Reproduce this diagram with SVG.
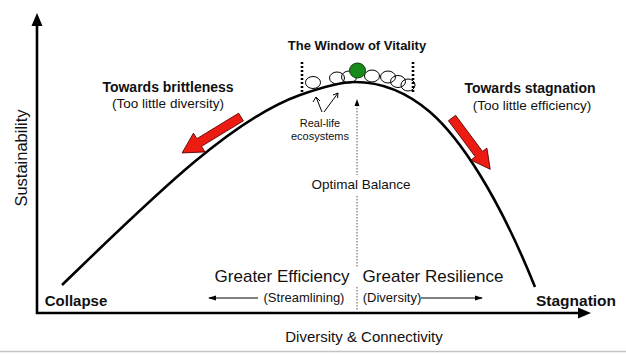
<svg xmlns="http://www.w3.org/2000/svg" width="626" height="354" viewBox="0 0 626 354">
<style>
text{font-family:"Liberation Sans",Arial,sans-serif;fill:#111}
.b{font-weight:bold}
.axis{stroke:#000;stroke-width:2.6;fill:none}
.curve{stroke:#000;stroke-width:2.6;fill:none}
.ring{fill:none;stroke:#000;stroke-width:1}
.red{fill:#ec1c12;stroke:#5a0000;stroke-width:0.8}
.thin{stroke:#000;stroke-width:1;fill:none}
.dots{stroke:#555;stroke-width:1;stroke-dasharray:1.5 1.5;fill:none}
.wdots{stroke:#000;stroke-width:2.6;stroke-dasharray:2 2;fill:none}
</style>
<rect width="626" height="354" fill="#fff"/>
<line x1="0" y1="351.5" x2="626" y2="351.5" stroke="#c4c4c4" stroke-width="1.5"/>

<g id="axes">
<path class="axis" d="M37,24 V313 H580"/>
<path d="M31.5,26 L37,13 L42.5,26 Z" fill="#000"/>
<path d="M578,307.5 L591,313 L578,318.5 Z" fill="#000"/>
<text x="76" y="306" class="b" font-size="15" text-anchor="middle">Collapse</text>
<text x="576" y="306" class="b" font-size="15.5" text-anchor="middle">Stagnation</text>
<text x="364" y="342" font-size="15" text-anchor="middle">Diversity &amp; Connectivity</text>
<text transform="translate(27,158) rotate(-90)" font-size="16.5" text-anchor="middle">Sustainability</text>
</g>

<g id="curve">
<path class="curve" d="M62,285 C150,200 230,120 300,95 C320,88 340,82 355,82 C385,82 410,95 430,112 C460,138 498,195 535,287"/>
</g>

<g id="window">
<text x="357" y="50" class="b" font-size="13" text-anchor="middle">The Window of Vitality</text>
<line class="wdots" x1="302" y1="62" x2="302" y2="93"/>
<line class="wdots" x1="413" y1="62" x2="413" y2="93"/>
<ellipse class="ring" cx="313" cy="82.5" rx="7.5" ry="6"/>
<ellipse class="ring" cx="337" cy="78" rx="7.5" ry="6"/>
<ellipse class="ring" cx="349" cy="77" rx="7.5" ry="6"/>
<ellipse class="ring" cx="372" cy="76" rx="7.5" ry="6"/>
<ellipse class="ring" cx="388" cy="77" rx="7.5" ry="6"/>
<ellipse class="ring" cx="398" cy="81.5" rx="7.5" ry="6"/>
<ellipse class="ring" cx="408" cy="85" rx="7" ry="6"/>
<ellipse cx="357.5" cy="70.5" rx="8" ry="7.5" fill="#178a1a" stroke="#0b3d0b" stroke-width="1"/>
</g>

<g id="ecosystems">
<path class="thin" d="M322,112 L316,97 M313,102 L316,97 L320,101"/>
<path class="thin" d="M324,112 L338,93 M333,95 L338,93 L337.5,98"/>
<text x="320" y="127" font-size="11" text-anchor="middle">Real-life</text>
<text x="320" y="140" font-size="11" text-anchor="middle">ecosystems</text>
</g>

<g id="optimal">
<line class="dots" x1="357" y1="105" x2="357" y2="175"/>
<line class="dots" x1="357" y1="196" x2="357" y2="268"/>
<line class="dots" x1="357" y1="287" x2="357" y2="310"/>
<path d="M354.5,106 L357,99 L359.5,106 Z" fill="#000"/>
<text x="361" y="189" font-size="13.5" text-anchor="middle">Optimal Balance</text>
</g>

<g id="brittleness">
<text x="168" y="92" class="b" font-size="14" text-anchor="middle">Towards brittleness</text>
<text x="168" y="108" font-size="13.5" text-anchor="middle">(Too little diversity)</text>
<polygon class="red" transform="translate(241,117) rotate(148.6)" points="0,-4.5 49,-4.5 49,-11 69,0 49,11 49,4.5 0,4.5"/>
</g>

<g id="stagnation">
<text x="530" y="93" class="b" font-size="14" text-anchor="middle">Towards stagnation</text>
<text x="532" y="110" font-size="13.5" text-anchor="middle">(Too little efficiency)</text>
<polygon class="red" transform="translate(452,118) rotate(53.3)" points="0,-4.5 45,-4.5 45,-10 64,0 45,10 45,4.5 0,4.5"/>
</g>

<g id="efficiency">
<text x="282" y="282" font-size="17" text-anchor="middle">Greater Efficiency</text>
<text x="304" y="302" font-size="13" text-anchor="middle">(Streamlining)</text>
<path class="thin" d="M209,298 H258"/>
<path d="M208,298 L216,295.5 L216,300.5 Z" fill="#000"/>
</g>

<g id="resilience">
<text x="433" y="282" font-size="17" text-anchor="middle">Greater Resilience</text>
<text x="392" y="302" font-size="13" text-anchor="middle">(Diversity)</text>
<path class="thin" d="M421,298 H482"/>
<path d="M483,298 L475,295.5 L475,300.5 Z" fill="#000"/>
</g>
</svg>
